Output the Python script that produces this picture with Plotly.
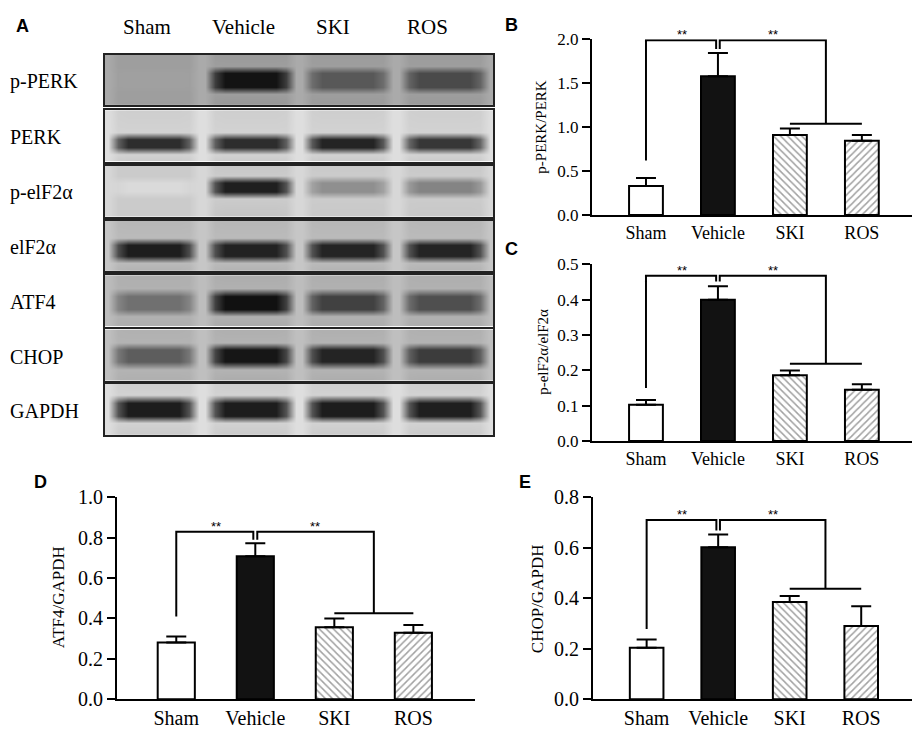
import plotly.graph_objects as go

W, H = 920, 739

# ---------------- data ----------------
groups = ["Sham", "Vehicle", "SKI", "ROS"]

blot_rows = ["p-PERK", "PERK", "p-elF2α", "elF2α", "ATF4", "CHOP", "GAPDH"]
# band darkness per lane (0 = white, 1 = black)
band_ppERK = [0.38, 0.97, 0.68, 0.74]
band_perk = [0.86, 0.86, 0.9, 0.82]
band_peif = [0.14, 0.92, 0.45, 0.5]
band_eif = [0.93, 0.91, 0.9, 0.9]
band_atf4 = [0.58, 0.98, 0.78, 0.72]
band_chop = [0.66, 0.96, 0.9, 0.8]
band_gapdh = [0.93, 0.93, 0.93, 0.92]
blot_bands = [band_ppERK, band_perk, band_peif, band_eif, band_atf4, band_chop, band_gapdh]
blot_background = [0.34, 0.12, 0.15, 0.22, 0.26, 0.25, 0.12]

ppERK_mean = [0.33, 1.58, 0.91, 0.845]
ppERK_sem = [0.09, 0.265, 0.075, 0.065]
peif_mean = [0.103, 0.40, 0.186, 0.145]
peif_sem = [0.013, 0.038, 0.014, 0.016]
atf4_mean = [0.28, 0.708, 0.356, 0.329]
atf4_sem = [0.03, 0.064, 0.044, 0.038]
chop_mean = [0.204, 0.602, 0.385, 0.29]
chop_sem = [0.032, 0.051, 0.024, 0.078]

# significance brackets: [top line, end over Sham, end over Vehicle, group line]
ppERK_bracket = [1.99, 0.62, 1.89, 1.04]
peif_bracket = [0.468, 0.15, 0.452, 0.219]
atf4_bracket = [0.83, 0.41, 0.79, 0.425]
chop_bracket = [0.71, 0.278, 0.668, 0.438]

# ---------------- layout helpers ----------------
SERIF = "Liberation Serif"
SANS = "Liberation Sans"
PAGE_OFFSET = 8  # body margin of the html page


def px_x(x):
    return max(0, (x - PAGE_OFFSET) / W)


def px_y(y):
    return 1 - (y - PAGE_OFFSET) / H


fig = go.Figure()

# ---------------- panel A: blots ----------------
blot_x = [105, 493]
row_px = [(45, 97), (102, 155), (159, 212), (216, 268), (272, 325), (328, 381), (384, 437)]
band_center = [0.5, 0.36, 0.58, 0.42, 0.47, 0.49, 0.51]
band_half = [0.14, 0.07, 0.08, 0.11, 0.13, 0.12, 0.13]
fade = 0.14
lane_steps = [(-0.47, 0.0), (-0.37, 0.7), (-0.26, 1.0), (0.26, 1.0), (0.37, 0.7), (0.47, 0.0)]
lane_shade = 0.05

for r, name in enumerate(blot_rows):
    n = r + 1
    bg = blot_background[r]
    bands = blot_bands[r]
    xs, lane_of, frac = [-0.5], [None], [0.0]
    for lane in range(len(groups)):
        for dx, f in lane_steps:
            xs.append(lane + dx)
            lane_of.append(lane)
            frac.append(f)
    xs.append(3.5)
    lane_of.append(None)
    frac.append(0.0)
    c, h = band_center[r], band_half[r]
    ys = [0, c - h - fade, c - h, c + h, c + h + fade, 1]
    vfrac = [0.35, 0.0, 1.0, 1.0, 0.0, 0.2]
    z = []
    for vf in vfrac:
        rowz = []
        for ln, f in zip(lane_of, frac):
            if ln is None:
                rowz.append(bg)
            else:
                base = bg + lane_shade * (f > 0)
                band_part = (bands[ln] - base) * f * (1.0 if vf == 1.0 else 0.0)
                smear = (bands[ln] - bg) * 0.12 * f * (vf if vf < 1 else 0)
                rowz.append(base + band_part + smear)
        z.append(rowz)
    fig.add_trace(go.Heatmap(
        x=xs, y=ys, z=z, zmin=0, zmax=1, zsmooth="best",
        colorscale=[[0, "#fbfbfb"], [1, "#0c0c0c"]],
        showscale=False, hoverinfo="skip",
        xaxis=f"x{n}", yaxis=f"y{n}",
    ))
    top, bot = row_px[r]
    fig.layout[f"xaxis{n}"] = dict(
        domain=[px_x(blot_x[0]), px_x(blot_x[1])], range=[-0.5, 3.5],
        showline=True, mirror=True, linewidth=1.6, linecolor="#222",
        showticklabels=False, ticks="", showgrid=False, zeroline=False,
        anchor=f"y{n}", fixedrange=True,
    )
    fig.layout[f"yaxis{n}"] = dict(
        domain=[px_y(bot), px_y(top)], range=[0, 1],
        showline=True, mirror=True, linewidth=1.6, linecolor="#222",
        showticklabels=False, ticks="", showgrid=False, zeroline=False,
        anchor=f"x{n}", fixedrange=True,
    )
    # row label, as far left as the page allows
    fig.add_annotation(
        x=0, y=px_y((top + bot) / 2 + 1.5), xref="paper", yref="paper",
        text=name, showarrow=False, xanchor="left", yanchor="middle",
        font=dict(family=SERIF, size=20, color="black"),
    )

header_x = [147, 243, 333, 427]
for g, hx in zip(groups, header_x):
    fig.add_annotation(
        x=px_x(hx), y=px_y(16), xref="paper", yref="paper", text=g,
        showarrow=False, xanchor="center", yanchor="middle",
        font=dict(family=SERIF, size=21, color="black"),
    )

# ---------------- bar panels ----------------
bar_colors = ["white", "#121212", "white", "white"]
bar_patterns = ["", "", "\\", "/"]

panels = [
    dict(letter="B", mean=ppERK_mean, sem=ppERK_sem, br=ppERK_bracket, title="p-PERK/PERK",
         xpx=(592, 918), ypx=(29, 210), ymax=2.0, dtick=0.5, tick=17, lab=18, tit=15,
         lpos=(511, 14), tpos=(541, 119)),
    dict(letter="C", mean=peif_mean, sem=peif_sem, br=peif_bracket, title="p-elF2α/elF2α",
         xpx=(592, 918), ypx=(261, 443), ymax=0.5, dtick=0.1, tick=17, lab=18, tit=15,
         lpos=(511, 245), tpos=(543, 351)),
    dict(letter="D", mean=atf4_mean, sem=atf4_sem, br=atf4_bracket, title="ATF4/GAPDH",
         xpx=(117, 475), ypx=(501, 709), ymax=1.0, dtick=0.2, tick=20, lab=20, tit=17,
         lpos=(40, 485), tpos=(58, 604)),
    dict(letter="E", mean=chop_mean, sem=chop_sem, br=chop_bracket, title="CHOP/GAPDH",
         xpx=(593, 917), ypx=(501, 709), ymax=0.8, dtick=0.2, tick=20, lab=20, tit=17,
         lpos=(525, 485), tpos=(537, 606)),
]

for i, p in enumerate(panels):
    n = len(blot_rows) + 1 + i
    xa, ya = f"x{n}", f"y{n}"
    fig.add_trace(go.Bar(
        x=list(range(len(groups))), y=p["mean"], width=0.47,
        marker=dict(
            color=bar_colors, line=dict(color="black", width=2),
            pattern=dict(shape=bar_patterns, fgcolor="#222222", bgcolor="white",
                         size=5, solidity=0.3),
        ),
        error_y=dict(type="data", symmetric=False, array=p["sem"],
                     arrayminus=[0] * len(groups), color="black", thickness=2, width=10),
        hoverinfo="skip", showlegend=False, xaxis=xa, yaxis=ya,
    ))
    top, left_end, mid_end, grp = p["br"]
    bx = [0, 0, 0.975, 0.975, None, 1.025, 1.025, 2.5, 2.5, None, 2.0, 3.0]
    by = [left_end, top, top, mid_end, None, mid_end, top, top, grp, None, grp, grp]
    fig.add_trace(go.Scatter(
        x=bx, y=by, mode="lines", line=dict(color="black", width=2),
        cliponaxis=False, hoverinfo="skip", showlegend=False, xaxis=xa, yaxis=ya,
    ))
    for sx in (0.5, 1.76):
        fig.add_annotation(
            x=sx, y=top, xref=xa, yref=ya, text="**", showarrow=False,
            yanchor="bottom", yshift=-4,
            font=dict(family=SANS, size=13, color="black"),
        )
    fig.layout[f"xaxis{n}"] = dict(
        domain=[px_x(p["xpx"][0]), min(1, px_x(p["xpx"][1]))], range=[-0.75, 3.78],
        tickmode="array", tickvals=list(range(len(groups))), ticktext=groups,
        ticks="", showline=True, linewidth=2, linecolor="black",
        showgrid=False, zeroline=False, anchor=ya, fixedrange=True,
        tickfont=dict(family=SERIF, size=p["lab"], color="black"),
    )
    fig.layout[f"yaxis{n}"] = dict(
        domain=[px_y(p["ypx"][1]), px_y(p["ypx"][0])], range=[0, p["ymax"]],
        dtick=p["dtick"], tick0=0, tickformat=".1f",
        ticks="outside", ticklen=8, tickwidth=2, tickcolor="black",
        showline=True, linewidth=2, linecolor="black",
        showgrid=False, zeroline=False, anchor=xa, fixedrange=True,
        tickfont=dict(family=SERIF, size=p["tick"], color="black"),
    )
    fig.add_annotation(
        x=px_x(p["tpos"][0]), y=px_y(p["tpos"][1]), xref="paper", yref="paper",
        text=p["title"], textangle=-90, showarrow=False,
        xanchor="center", yanchor="middle",
        font=dict(family=SERIF, size=p["tit"], color="black"),
    )
    fig.add_annotation(
        x=px_x(p["lpos"][0]), y=px_y(p["lpos"][1]), xref="paper", yref="paper",
        text=f"<b>{p['letter']}</b>", showarrow=False,
        xanchor="center", yanchor="middle",
        font=dict(family=SANS, size=18, color="black"),
    )

fig.add_annotation(
    x=px_x(22), y=px_y(15), xref="paper", yref="paper", text="<b>A</b>",
    showarrow=False, xanchor="center", yanchor="middle",
    font=dict(family=SANS, size=18, color="black"),
)

fig.update_layout(
    width=W, height=H, autosize=False,
    margin=dict(l=0, r=0, t=0, b=0),
    paper_bgcolor="white", plot_bgcolor="white",
    showlegend=False,
)

fig.write_html("out.html", config={"displayModeBar": False})
